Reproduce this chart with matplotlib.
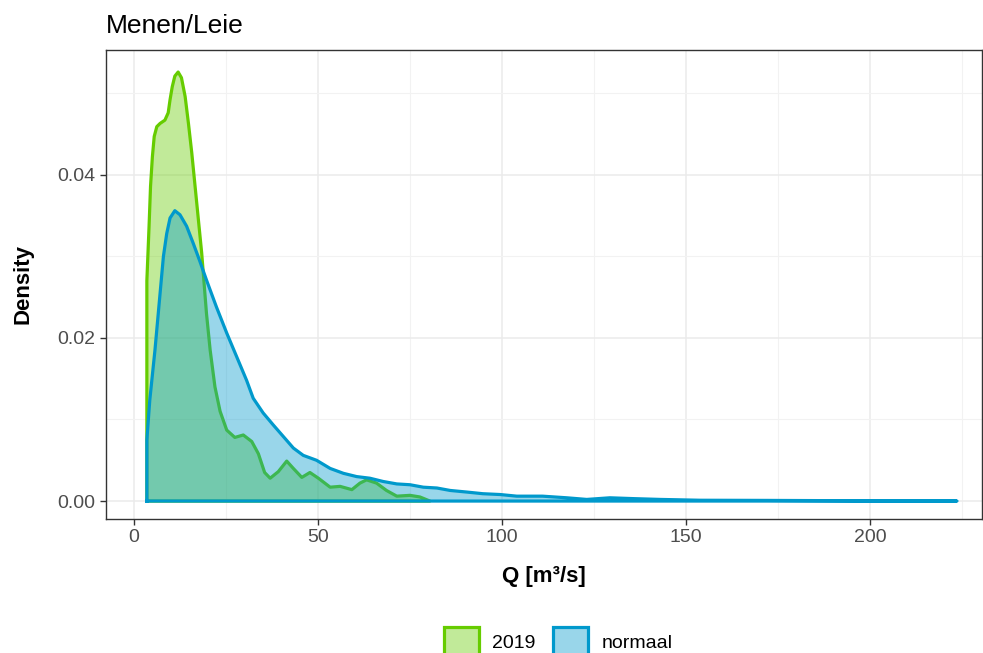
import numpy as np
import matplotlib.pyplot as plt
from matplotlib.colors import to_rgba
from matplotlib.patches import Patch
from matplotlib.ticker import MultipleLocator

plt.rcParams['font.family'] = ['Liberation Sans', 'DejaVu Sans']

# density of discharge, 2019 vs. the normal years
q_2019 = [3.5, 4.1, 4.5, 5.0, 5.5, 6.2, 7.1, 8.4, 9.3, 9.8, 10.4, 11.1, 12.0, 12.9,
          13.9, 14.8, 15.7, 16.6, 17.5, 18.4, 19.7, 20.7, 22.0, 23.4, 25.2, 27.4,
          29.7, 32.0, 33.8, 35.5, 37.0, 39.2, 41.5, 43.3, 45.6, 47.8, 50.1, 53.3,
          56.0, 59.2, 61.4, 63.2, 65.9, 68.6, 71.4, 75.0, 77.7, 80.4]
dens_2019 = [0.0270, 0.0337, 0.0386, 0.0422, 0.0447, 0.0459, 0.0463, 0.0467, 0.0476,
             0.0492, 0.0508, 0.0521, 0.0526, 0.0519, 0.0496, 0.0463, 0.0427, 0.0386,
             0.0345, 0.0304, 0.0230, 0.0185, 0.0140, 0.0110, 0.0087, 0.0078, 0.0081,
             0.0073, 0.0058, 0.0035, 0.0028, 0.0036, 0.0049, 0.0040, 0.0029, 0.0035,
             0.0028, 0.0017, 0.0018, 0.0014, 0.0022, 0.0026, 0.0022, 0.0013, 0.0006,
             0.0007, 0.0005, 0.0]

q_normaal = [3.5, 4.3, 5.7, 7.1, 8.0, 8.9, 9.8, 11.1, 12.5, 14.3, 16.1, 17.9, 19.7,
             22.4, 25.2, 27.9, 30.6, 32.4, 35.1, 37.9, 40.6, 43.3, 46.0, 49.6, 53.3,
             56.9, 60.5, 64.1, 67.7, 71.4, 75.0, 78.6, 82.3, 85.9, 90.5, 94.8, 99.5,
             104, 111, 117.6, 123, 129.3, 135.6, 143, 153.8, 172, 200, 223.6]
dens_normaal = [0.0075, 0.0124, 0.0185, 0.0255, 0.0300, 0.0328, 0.0347, 0.0356, 0.0351,
                0.0337, 0.0316, 0.0294, 0.0271, 0.0238, 0.0206, 0.0177, 0.0148, 0.0126,
                0.0108, 0.0093, 0.0079, 0.0065, 0.0056, 0.0050, 0.0040, 0.0034, 0.0030,
                0.0028, 0.0024, 0.0021, 0.0020, 0.0017, 0.0016, 0.0013, 0.0011, 0.0009,
                0.0008, 0.0006, 0.0006, 0.0004, 0.0002, 0.0004, 0.0003, 0.0002, 0.0001,
                0.00008, 0.00003, 0.0]

series = [('2019', q_2019, dens_2019, '#66CC00'),
          ('normaal', q_normaal, dens_normaal, '#0099CC')]

fig = plt.figure(figsize=(9.83, 6.53), dpi=100)
ax = fig.add_axes([106/983, (653-519)/653, 876/983, 469/653])

for i, (name, q, d, col) in enumerate(series):
    q = np.asarray(q)
    d = np.asarray(d)
    ax.fill_between(q, d, 0, color=col, alpha=0.4, lw=0, zorder=2 + 2*i)
    # closed outline like geom_density: up the left edge, along the curve, back on the baseline
    ox = np.concatenate([[q[0]], q, [q[-1], q[0]]])
    oy = np.concatenate([[0], d, [0, 0]])
    ax.plot(ox, oy, color=col, lw=2.3, solid_joinstyle='round', zorder=3 + 2*i)

ax.set_xlim(-7.6, 230.4)
ax.set_ylim(-0.0022, 0.0553)
ax.xaxis.set_major_locator(MultipleLocator(50))
ax.xaxis.set_minor_locator(MultipleLocator(25))
ax.yaxis.set_major_locator(MultipleLocator(0.02))
ax.yaxis.set_minor_locator(MultipleLocator(0.01))
ax.yaxis.set_major_formatter(plt.FormatStrFormatter('%.2f'))

ax.grid(which='major', color='#EBEBEB', lw=1.1, zorder=0)
ax.grid(which='minor', color='#F2F2F2', lw=0.8, zorder=0)
ax.set_axisbelow(True)
ax.tick_params(which='major', length=4.5, width=1, color='#333333',
               labelsize=14, labelcolor='#4D4D4D', pad=3)
ax.tick_params(which='minor', length=0)
for s in ax.spines.values():
    s.set_color('#333333')
    s.set_linewidth(1)

ax.set_xlabel('Q [m³/s]', fontsize=16, fontweight='bold', labelpad=14)
ax.set_ylabel('Density', fontsize=16, fontweight='bold', labelpad=17)
ax.set_title('Menen/Leie', fontsize=19, loc='left', pad=12)

handles = [Patch(facecolor=to_rgba(col, 0.4), edgecolor=col, lw=2.3)
           for _, _, _, col in series]
fig.legend(handles, [s[0] for s in series], loc='center', ncol=2,
           bbox_to_anchor=(0.568, 1 - 642/653), frameon=False, fontsize=14,
           handlelength=1.8, handleheight=2.0, columnspacing=0.9, handletextpad=0.7)

fig.savefig('out.png', dpi=100)
